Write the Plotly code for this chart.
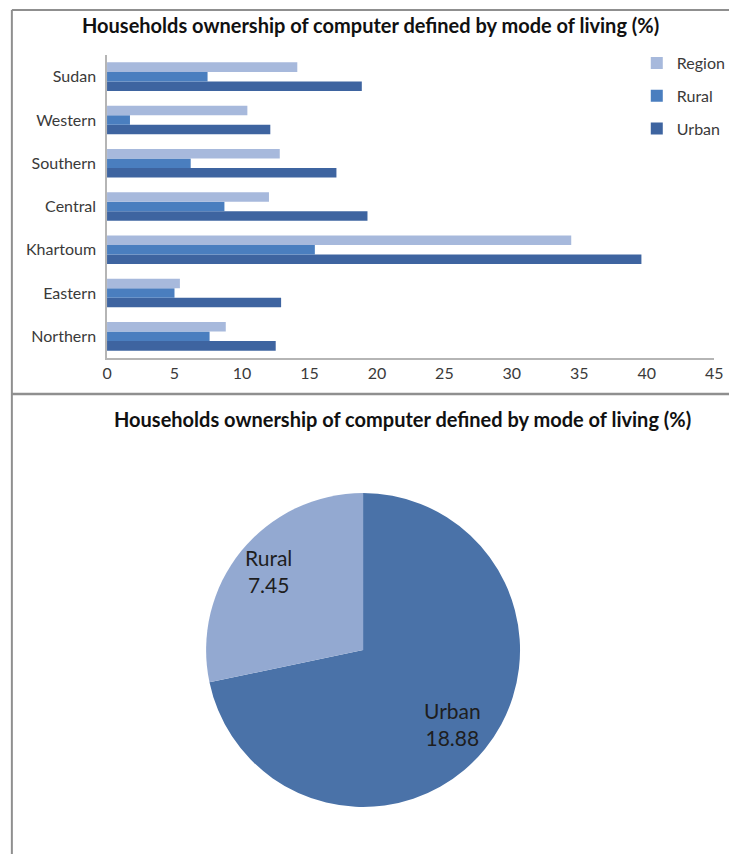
import math
import plotly.graph_objects as go

# Household computer ownership by state and mode of living (%)
states = ["Northern", "Eastern", "Khartoum", "Central", "Southern", "Western", "Sudan"]
region_vals = [8.8, 5.4, 34.4, 12.0, 12.8, 10.4, 14.1]
rural_vals = [7.6, 5.0, 15.4, 8.7, 6.2, 1.7, 7.45]
urban_vals = [12.5, 12.9, 39.6, 19.3, 17.0, 12.1, 18.88]

# National split shown in the pie
pie_labels = ["Urban", "Rural"]
pie_values = [18.88, 7.45]

x_ticks = [0, 5, 10, 15, 20, 25, 30, 35, 40, 45]

TITLE = "Households ownership of computer defined by mode of living (%)"
FONT = "Lato"
W, H = 738, 854

C_REGION = "#A7B9DC"
C_RURAL = "#4A7EBF"
C_URBAN = "#3E64A0"
PIE_URBAN = "#4A72A8"
PIE_RURAL = "#93A9D1"
TXT = "#3a3a3a"


def px_x(p):
    return p / W


def px_y(p):
    return 1 - p / H


fig = go.Figure()

# Grouped horizontal bars: first trace sits lowest in each group;
# legendrank keeps the legend reading Region, Rural, Urban
for name, vals, col, rank in [("Urban", urban_vals, C_URBAN, 3),
                              ("Rural", rural_vals, C_RURAL, 2),
                              ("Region", region_vals, C_REGION, 1)]:
    fig.add_trace(go.Bar(
        y=states, x=vals, name=name, orientation="h", legendgroup=name,
        legendrank=rank,
        marker=dict(color=col, line=dict(width=0)),
        xaxis="x", yaxis="y",
    ))

# Pie of urban vs rural
fig.add_trace(go.Pie(
    labels=pie_labels, values=pie_values,
    marker=dict(colors=[PIE_URBAN, PIE_RURAL], line=dict(width=0)),
    sort=False, direction="clockwise", rotation=0,
    textinfo="none", showlegend=False, hoverinfo="label+value",
    domain=dict(x=[px_x(205), px_x(525)], y=[px_y(810), px_y(490)]),
))

# Pie labels placed at each slice's mid-angle
cx, cy, r = 365, 650, 160
total = sum(pie_values)
start = 90.0
annotations = []
for lab, val, frac_r in zip(pie_labels, pie_values, [0.73, 0.78]):
    sweep = 360.0 * val / total
    mid = start - sweep / 2
    start -= sweep
    ax = cx + frac_r * r * math.cos(math.radians(mid))
    ay = cy - frac_r * r * math.sin(math.radians(mid))
    annotations.append(dict(
        x=px_x(ax), y=px_y(ay), xref="paper", yref="paper",
        xanchor="center", yanchor="middle",
        text=f"{lab}<br>{val:.2f}", showarrow=False, align="center",
        font=dict(family=FONT, size=21, color="#1e1e1e"),
    ))

annotations += [
    dict(x=px_x(373), y=px_y(25), xref="paper", yref="paper", text=f"<b>{TITLE}</b>",
         xanchor="center", yanchor="middle",
         showarrow=False, font=dict(family=FONT, size=20, color="#111111")),
    dict(x=px_x(405), y=px_y(419), xref="paper", yref="paper", text=f"<b>{TITLE}</b>",
         xanchor="center", yanchor="middle",
         showarrow=False, font=dict(family=FONT, size=20, color="#111111")),
]

shapes = [
    # panel frames
    dict(type="line", xref="paper", yref="paper", x0=px_x(7), x1=1.0, y0=px_y(10), y1=px_y(10),
         line=dict(color="#8f8f8f", width=2)),
    dict(type="line", xref="paper", yref="paper", x0=px_x(7), x1=px_x(7), y0=px_y(10), y1=0,
         line=dict(color="#8f8f8f", width=2)),
    dict(type="line", xref="paper", yref="paper", x0=px_x(7), x1=1.0, y0=px_y(394), y1=px_y(394),
         line=dict(color="#8f8f8f", width=2.5)),
]

fig.update_layout(
    width=W, height=H,
    margin=dict(l=0, r=0, t=0, b=0),
    paper_bgcolor="white", plot_bgcolor="white",
    barmode="group", bargap=0.34, bargroupgap=0,
    font=dict(family=FONT, size=16, color=TXT),
    xaxis=dict(domain=[px_x(104), px_x(723)], range=[0, 45], tickvals=x_ticks,
               showgrid=False, zeroline=False, showline=True, linecolor="#b5b5b5",
               linewidth=1.5, ticks="", ticklen=0, fixedrange=True,
               tickfont=dict(family=FONT, size=16, color=TXT)),
    yaxis=dict(domain=[px_y(358), px_y(55)], showgrid=False, zeroline=False,
               showline=True, linecolor="#b5b5b5", linewidth=1.5, ticks="",
               ticklabelstandoff=6, fixedrange=True,
               tickfont=dict(family=FONT, size=16, color=TXT)),
    legend=dict(x=px_x(644), y=px_y(46), xanchor="left", yanchor="top",
                traceorder="grouped", font=dict(family=FONT, size=16, color=TXT),
                itemwidth=30, tracegroupgap=9, bgcolor="rgba(0,0,0,0)"),
    annotations=annotations,
    shapes=shapes,
)

fig.write_html("out.html")
